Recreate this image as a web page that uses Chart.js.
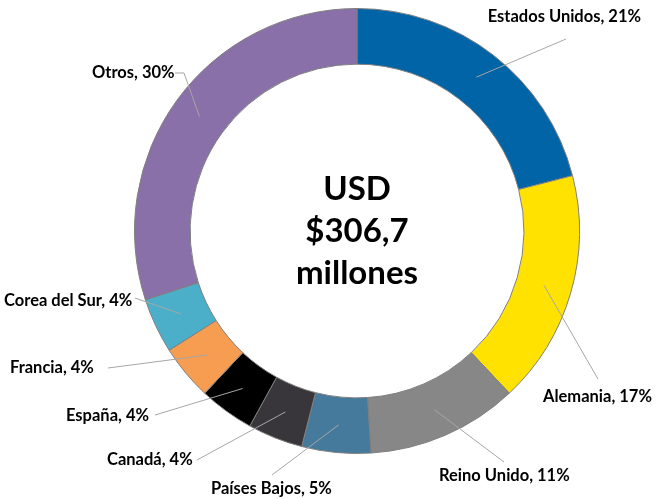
<!DOCTYPE html>
<html>
<head>
<meta charset="utf-8">
<script src="https://cdn.jsdelivr.net/npm/chart.js@4"></script>
<style>
html,body{margin:0;padding:0;background:#fff;}
#wrap{width:662px;height:499px;position:relative;}
</style>
</head>
<body>
<div id="wrap"><canvas id="c"></canvas></div>
<script>
const categories = ["Estados Unidos","Alemania","Reino Unido","Países Bajos","Canadá","España","Francia","Corea del Sur","Otros"];
const shares = [21,17,11,5,4,4,4,4,30];
const colors = ["#0064A7","#FFE200","#878787","#467A9C","#38363B","#000000","#F69D52","#4CAFC9","#8970A8"];
const centerLines = ["USD","$306,7","millones"];

// label layout: text anchor (relative to ring centre), alignment, leader line points (relative to centre)
const labelLayout = [
  {x:284, y:-214, align:"right", line:[[209,-192]]},
  {x:186, y:166, align:"left", line:[[241,148]]},
  {x:82, y:245, align:"left", line:[[147,231]]},
  {x:-146, y:258, align:"left", line:[[-85,244]]},
  {x:-250, y:229, align:"left", line:[[-160,229]]},
  {x:-291, y:185, align:"left", line:[[-202,184]]},
  {x:-347, y:137, align:"left", line:[[-249,137]]},
  {x:-353, y:70, align:"left", line:[[-222,67]]},
  {x:-265, y:-158, align:"left", line:[[-173,-158],[-182,-158]]}
];

const FONT = "Lato, 'Open Sans', sans-serif";

const labelPlugin = {
  id: "labels",
  afterDatasetsDraw(chart) {
    const ctx = chart.ctx;
    const meta = chart.getDatasetMeta(0);
    ctx.save();
    meta.data.forEach((arc, i) => {
      const p = arc.getProps(["x","y","startAngle","endAngle","innerRadius","outerRadius"], true);
      const mid = (p.startAngle + p.endAngle) / 2;
      const r = (p.innerRadius + p.outerRadius) / 2;
      const sx = p.x + Math.cos(mid) * r;
      const sy = p.y + Math.sin(mid) * r;
      const L = labelLayout[i];
      ctx.strokeStyle = "#A6A6A6";
      ctx.lineWidth = 1;
      ctx.beginPath();
      ctx.moveTo(sx, sy);
      L.line.forEach(pt => ctx.lineTo(p.x + pt[0], p.y + pt[1]));
      ctx.stroke();
      ctx.fillStyle = "#000";
      ctx.font = "bold 16.5px " + FONT;
      ctx.textAlign = L.align;
      ctx.textBaseline = "middle";
      ctx.fillText(categories[i] + ", " + shares[i] + "%", p.x + L.x, p.y + L.y);
    });
    // centre text
    const a0 = meta.data[0];
    const cx = a0.x, cy = a0.y;
    ctx.font = "bold 33px " + FONT;
    ctx.textAlign = "center";
    ctx.textBaseline = "middle";
    ctx.fillStyle = "#000";
    const lh = 42;
    centerLines.forEach((t, k) => {
      ctx.fillText(t, cx, cy + (k - 1) * lh);
    });
    ctx.restore();
  }
};

new Chart(document.getElementById("c"), {
  type: "doughnut",
  data: {
    labels: categories,
    datasets: [{
      data: shares,
      backgroundColor: colors,
      borderColor: "#7F7F7F",
      borderWidth: 1,
      borderAlign: "center"
    }]
  },
  options: {
    responsive: true,
    maintainAspectRatio: false,
    animation: false,
    cutout: "75%",
    layout: {padding: {top: 8, bottom: 45, left: 52, right: 0}},
    plugins: {legend: {display: false}, tooltip: {enabled: false}}
  },
  plugins: [labelPlugin]
});
</script>
</body>
</html>
